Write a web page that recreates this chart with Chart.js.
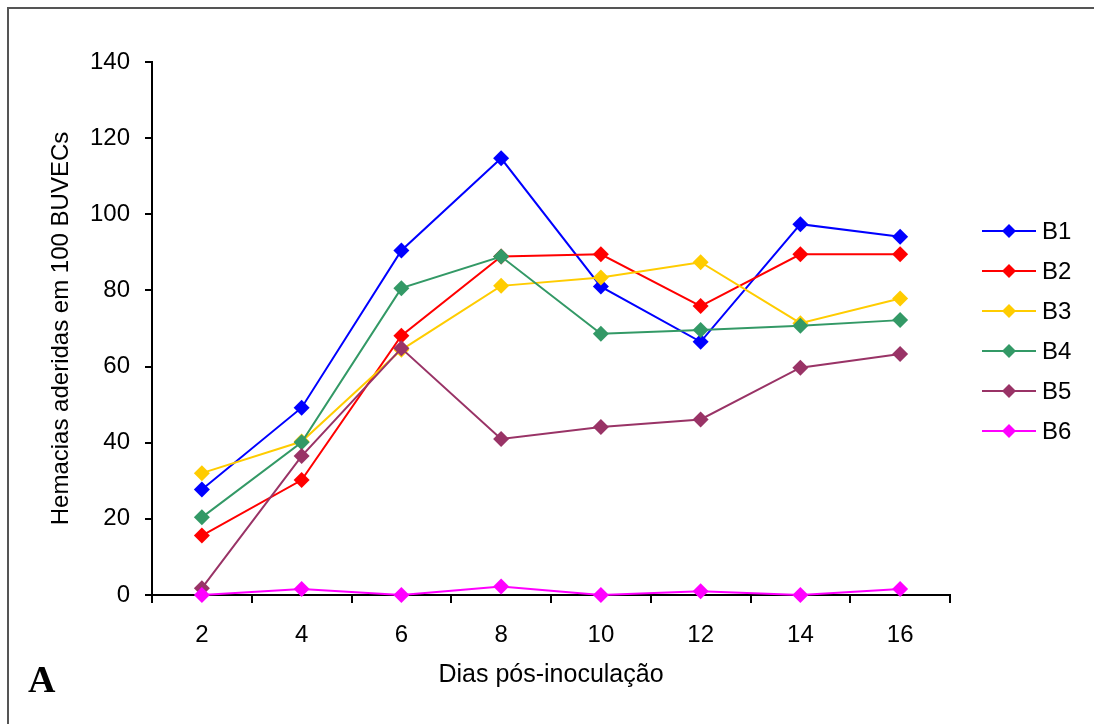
<!DOCTYPE html>
<html lang="pt">
<head>
  <meta charset="UTF-8">
  <title>Hemacias aderidas</title>
  <script src="https://cdn.jsdelivr.net/npm/chart.js"></script>
  <style>
    body { margin: 0; background: #fff; }
    canvas { display: block; }
  </style>
</head>
<body>
  <canvas id="chart" width="1094" height="724"></canvas>

  <script>
    // dias pos-inoculacao
    const dias = ['2', '4', '6', '8', '10', '12', '14', '16'];

    // hemacias aderidas por 100 BUVECs
    const b1 = [27.7, 49.2, 90.5, 114.7, 81.0, 66.5, 97.4, 94.1];
    const b2 = [15.6, 30.2, 68.1, 88.9, 89.5, 75.9, 89.5, 89.5];
    const b3 = [32.0, 40.3, 64.4, 81.2, 83.4, 87.4, 71.4, 77.9];
    const b4 = [20.4, 40.1, 80.6, 88.9, 68.6, 69.6, 70.7, 72.2];
    const b5 = [1.8, 36.5, 64.8, 41.0, 44.1, 46.1, 59.7, 63.3];
    const b6 = [0, 1.6, 0, 2.2, 0, 1.0, 0, 1.6];

    const nomes = ['B1', 'B2', 'B3', 'B4', 'B5', 'B6'];
    const series = [b1, b2, b3, b4, b5, b6];
    const cores = ['#0000ff', '#ff0000', '#ffcc00', '#339966', '#993366', '#ff00ff'];

    const FONT = 'Liberation Sans, Arial, sans-serif';

    // frame lines (top and left) + the "A" label
    const framePlugin = {
      id: 'frame',
      afterDraw(chart) {
        const ctx = chart.ctx;
        ctx.save();
        ctx.strokeStyle = '#555';
        ctx.lineWidth = 2;
        ctx.beginPath();
        ctx.moveTo(8, 724);
        ctx.lineTo(8, 8);
        ctx.lineTo(1094, 8);
        ctx.stroke();
        ctx.fillStyle = '#000';
        ctx.font = 'bold 38px "Liberation Serif", "Times New Roman", serif';
        ctx.textBaseline = 'alphabetic';
        ctx.fillText('A', 28, 692);
        ctx.restore();
      }
    };

    // legend with line + diamond marker, like the original
    const legendPlugin = {
      id: 'lineLegend',
      afterDraw(chart) {
        const ctx = chart.ctx;
        ctx.save();
        chart.data.datasets.forEach((ds, i) => {
          const y = 231 + i * 40;
          ctx.strokeStyle = ds.borderColor;
          ctx.lineWidth = 2;
          ctx.beginPath();
          ctx.moveTo(982, y);
          ctx.lineTo(1036, y);
          ctx.stroke();
          ctx.fillStyle = ds.backgroundColor;
          ctx.beginPath();
          ctx.moveTo(1009, y - 7);
          ctx.lineTo(1016, y);
          ctx.lineTo(1009, y + 7);
          ctx.lineTo(1002, y);
          ctx.closePath();
          ctx.fill();
          ctx.fillStyle = '#000';
          ctx.font = '24px ' + FONT;
          ctx.textBaseline = 'middle';
          ctx.fillText(ds.label, 1042, y + 1);
        });
        ctx.restore();
      }
    };

    const ctx = document.getElementById('chart').getContext('2d');
    new Chart(ctx, {
      type: 'line',
      data: {
        labels: dias,
        datasets: series.map((dados, i) => ({
          label: nomes[i],
          data: dados,
          borderColor: cores[i],
          backgroundColor: cores[i],
          borderWidth: 2,
          pointStyle: 'rectRot',
          pointRadius: 8,
          pointBorderWidth: 0,
          pointHoverRadius: 8,
          tension: 0,
          clip: false,
          order: series.length - i
        }))
      },
      options: {
        responsive: false,
        animation: false,
        events: [],
        layout: { padding: { left: 0, right: 144, top: 62, bottom: 0 } },
        plugins: {
          legend: { display: false },
          tooltip: { enabled: false }
        },
        scales: {
          x: {
            offset: true,
            grid: { offset: true, drawOnChartArea: false, drawTicks: true, tickLength: 8, color: '#000', lineWidth: 2 },
            border: { display: true, color: '#000', width: 2 },
            ticks: { color: '#000', font: { family: FONT, size: 24 }, padding: 18, maxRotation: 0 },
            title: { display: true, text: 'Dias pós-inoculação', color: '#000', font: { family: FONT, size: 25 }, padding: { top: 0, bottom: 34 } },
            afterFit(scale) { scale.height = 129; }
          },
          y: {
            min: 0,
            max: 140,
            ticks: { stepSize: 20, color: '#000', font: { family: FONT, size: 24 }, padding: 15 },
            grid: { drawOnChartArea: false, drawTicks: true, tickLength: 7, color: '#000', lineWidth: 2 },
            border: { display: true, color: '#000', width: 2 },
            title: { display: true, text: 'Hemacias aderidas em 100 BUVECs', color: '#000', font: { family: FONT, size: 24 }, padding: { top: 47, bottom: 0 } },
            afterFit(scale) { scale.width = 152; }
          }
        }
      },
      plugins: [framePlugin, legendPlugin]
    });
  </script>
</body>
</html>
